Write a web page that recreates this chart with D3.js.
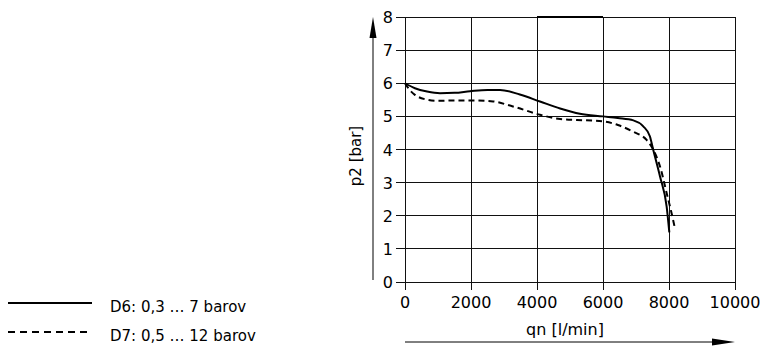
<!DOCTYPE html>
<html><head><meta charset="utf-8">
<script src="https://cdn.jsdelivr.net/npm/d3@7"></script>
<style>body{margin:0;background:#fff}text{font-family:"DejaVu Sans",sans-serif;fill:#000}</style>
</head><body><svg id="c" width="761" height="347"></svg>
<script>
const xTicks = [0, 2000, 4000, 6000, 8000, 10000];
const yTicks = [0, 1, 2, 3, 4, 5, 6, 7, 8];
const xLabel = "qn [l/min]";
const yLabel = "p2 [bar]";
const seriesNames = ["D6: 0,3 … 7 barov", "D7: 0,5 … 12 barov"];
const qD6 = [0, 300, 670, 1060, 1500, 1970, 2500, 2880, 3480, 4090, 4700, 5300, 6000, 6450, 6920, 7220, 7420, 7520, 7730, 7930, 8010];
const pD6 = [6.0, 5.85, 5.75, 5.70, 5.71, 5.76, 5.80, 5.80, 5.66, 5.45, 5.24, 5.08, 5.0, 4.95, 4.88, 4.70, 4.40, 4.0, 3.18, 2.27, 1.5];
const qD7 = [0, 100, 300, 600, 1000, 1500, 2000, 2670, 3270, 4090, 4700, 5500, 6000, 6450, 6910, 7320, 7520, 7730, 7930, 8080, 8180];
const pD7 = [6.0, 5.85, 5.65, 5.52, 5.47, 5.48, 5.48, 5.45, 5.3, 5.05, 4.92, 4.88, 4.85, 4.74, 4.54, 4.29, 4.0, 3.48, 2.68, 2.07, 1.62];

const svg = d3.select("#c");
const x = d3.scaleLinear().domain([0, 10000]).range([405, 735]);
const y = d3.scaleLinear().domain([0, 8]).range([282, 17]);

// grid
svg.append("g").selectAll("line").data(xTicks).join("line")
  .attr("x1", d => x(d)).attr("x2", d => x(d)).attr("y1", y(8)).attr("y2", y(0) + 8)
  .attr("stroke", "#111").attr("stroke-width", 1).attr("shape-rendering", "crispEdges");
svg.append("g").selectAll("line").data(yTicks).join("line")
  .attr("x1", x(0) - 9).attr("x2", x(10000)).attr("y1", d => y(d)).attr("y2", d => y(d))
  .attr("stroke", "#111").attr("stroke-width", 1).attr("shape-rendering", "crispEdges");
// thick top segment
svg.append("line").attr("x1", x(4000)).attr("x2", x(6000)).attr("y1", y(8)).attr("y2", y(8))
  .attr("stroke", "#000").attr("stroke-width", 2);

// tick labels
svg.append("g").selectAll("text").data(yTicks).join("text")
  .attr("x", x(0) - 12).attr("y", d => y(d) + 6).attr("text-anchor", "end")
  .attr("font-size", 16).text(d => d);
svg.append("g").selectAll("text").data(xTicks).join("text")
  .attr("x", d => x(d)).attr("y", 308).attr("text-anchor", "middle")
  .attr("font-size", 16).text(d => d);

// axis titles
svg.append("text").attr("transform", "translate(361,156) rotate(-90)")
  .attr("text-anchor", "middle").attr("font-size", 15).text(yLabel);
svg.append("text").attr("x", 565).attr("y", 335).attr("text-anchor", "middle")
  .attr("font-size", 16).text(xLabel);

// arrows
svg.append("line").attr("x1", 373).attr("x2", 373).attr("y1", 280).attr("y2", 36)
  .attr("stroke", "#000").attr("stroke-width", 1);
svg.append("path").attr("d", "M373,17 L369.5,38 L376.5,38 Z").attr("fill", "#000");
svg.append("line").attr("x1", 405).attr("x2", 715).attr("y1", 342).attr("y2", 342)
  .attr("stroke", "#000").attr("stroke-width", 1);
svg.append("path").attr("d", "M735,342 L712,338.5 L712,345.5 Z").attr("fill", "#000");

// curves
const line = d3.line().x(d => x(d[0])).y(d => y(d[1])).curve(d3.curveMonotoneX);
const d6 = qD6.map((q, i) => [q, pD6[i]]);
const d7 = qD7.map((q, i) => [q, pD7[i]]);
svg.append("path").attr("d", line(d6)).attr("fill", "none").attr("stroke", "#000").attr("stroke-width", 2);
svg.append("path").attr("d", line(d7)).attr("fill", "none").attr("stroke", "#000").attr("stroke-width", 2)
  .attr("stroke-dasharray", "6,4");

// legend
const lg = svg.append("g");
seriesNames.forEach((n, i) => {
  const yy = 303 + i * 29;
  lg.append("line").attr("x1", 8).attr("x2", 92).attr("y1", yy).attr("y2", yy)
    .attr("stroke", "#000").attr("stroke-width", 2)
    .attr("stroke-dasharray", i === 1 ? "7,5" : null);
  lg.append("text").attr("x", 110).attr("y", yy + 9).attr("font-size", 15).text(n);
});
</script></body></html>
